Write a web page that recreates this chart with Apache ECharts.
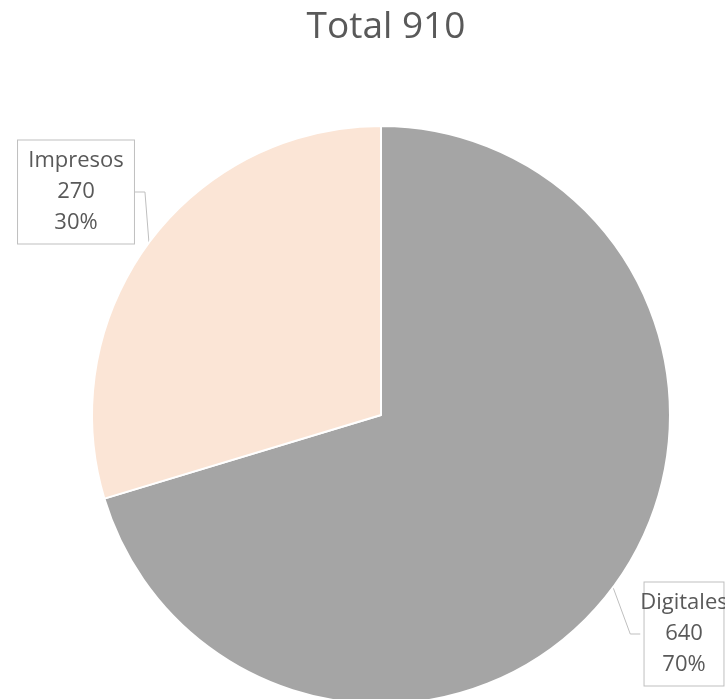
<!DOCTYPE html>
<html>
<head>
<meta charset="utf-8">
<script src="https://cdn.jsdelivr.net/npm/echarts@6/dist/echarts.min.js"></script>
<style>
  html, body { margin: 0; padding: 0; background: #fff; }
  #chart { width: 725px; height: 699px; }
</style>
</head>
<body>
<div id="chart"></div>
<script>
// data
var categories = ['Digitales', 'Impresos'];
var values = [640, 270];
var colors = ['#A5A5A5', '#FBE5D6'];
var total = 910;

// where the callout boxes sit (centre of box)
var labelSpots = [[684, 634], [76, 192]];

var data = categories.map(function (name, i) {
  return { name: name, value: values[i], itemStyle: { color: colors[i] } };
});

var chart = echarts.init(document.getElementById('chart'));
chart.setOption({
  animation: false,
  title: {
    text: 'Total ' + total,
    left: 381,
    textAlign: 'center',
    top: 4,
    textStyle: { fontFamily: 'Open Sans', fontWeight: 'normal', fontSize: 37, color: '#595959' }
  },
  series: [{
    type: 'pie',
    center: [381, 415],
    radius: 289,
    startAngle: 90,
    clockwise: true,
    data: data,
    itemStyle: { borderColor: '#fff', borderWidth: 2 },
    label: {
      show: true,
      formatter: function (p) { return p.name + '\n' + p.value + '\n' + Math.round(p.percent) + '%'; },
      fontFamily: 'Open Sans',
      fontSize: 22,
      lineHeight: 31,
      color: '#595959',
      align: 'center',
      overflow: 'none',
      backgroundColor: '#fff',
      borderColor: '#BFBFBF',
      borderWidth: 1,
      padding: [6, 10, 4, 10]
    },
    labelLine: { show: true, length: 10, length2: 10, lineStyle: { color: '#BFBFBF', width: 1 } },
    labelLayout: function (p) {
      var s = labelSpots[p.dataIndex];
      return { x: s[0], y: s[1], align: 'center', verticalAlign: 'middle' };
    }
  }]
});
</script>
</body>
</html>
